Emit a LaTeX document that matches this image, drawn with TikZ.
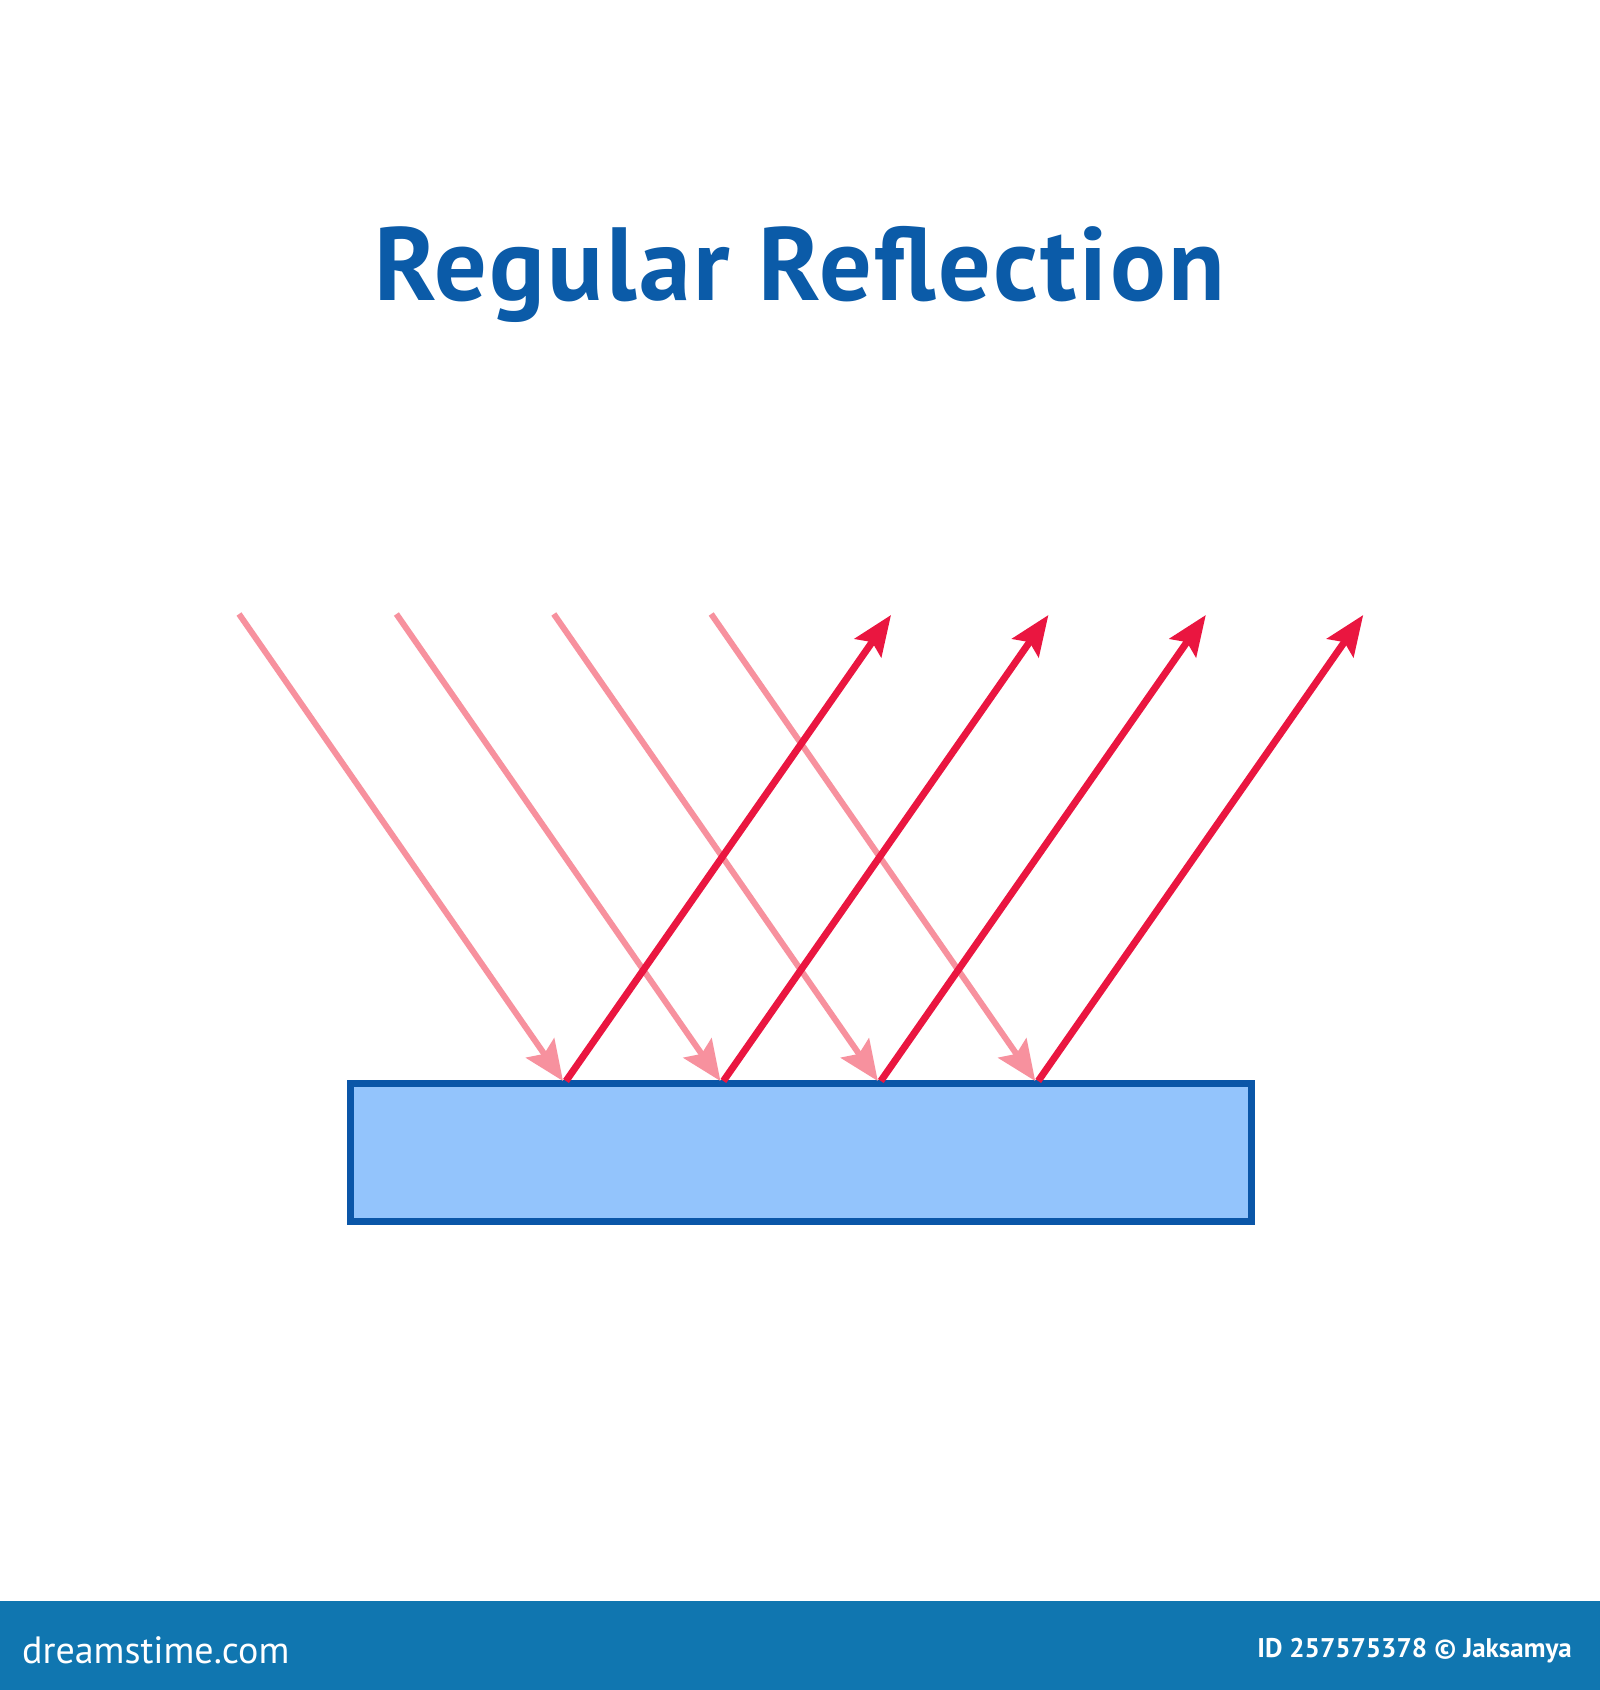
\documentclass[tikz,border=0pt]{standalone}
\usepackage{fontspec}
\setmainfont{PT Sans}
\newfontfamily\titlefont[LetterSpace=2.4]{PT Sans}
\usetikzlibrary{arrows.meta}
\definecolor{titleblue}{HTML}{0B5BA8}
\definecolor{surfblue}{HTML}{0A56A8}
\definecolor{surffill}{HTML}{93C4FC}
\definecolor{incpink}{HTML}{F7919E}
\definecolor{refred}{HTML}{EA1640}
\definecolor{barblue}{HTML}{1076B0}
\begin{document}
\begin{tikzpicture}[x=1pt,y=-1pt,
  incident/.style={draw=incpink, line width=6pt, -{Stealth[length=40pt,width=34pt,inset=7pt,fill=incpink]}},
  reflected/.style={draw=refred, line width=7pt, -{Stealth[length=40pt,width=32pt,inset=7pt,fill=refred]}},
  surfacebox/.style={draw=surfblue, fill=surffill, line width=7pt, inner sep=0pt, rectangle},
  titletext/.style={text=titleblue, font=\titlefont\bfseries\fontsize{104}{110}\selectfont, inner sep=0pt},
  bartext/.style={text=white, inner sep=0pt}]
\useasboundingbox (0,0) rectangle (1600,1690);
\fill[white] (0,0) rectangle (1600,1690);
\node[titletext, anchor=base] (title) at (800,300) {Regular Reflection};
\node[surfacebox, minimum width=901pt, minimum height=138pt] (surface) at (801,1152) {};
\foreach \i in {0,...,3}{
  \coordinate (in-\i) at ({239+157.4*\i},614);
  \coordinate (hit-\i) at ({563+157.4*\i},1081);
  \coordinate (start-\i) at ({566+157.4*\i},1081);
  \coordinate (out-\i) at ({891+157.4*\i},615);
}
\foreach \i in {0,...,3}{
  \draw[incident] (in-\i) -- (hit-\i);
}
\foreach \i in {0,...,3}{
  \draw[reflected] (start-\i) -- (out-\i);
}
\fill[barblue] (0,1601) rectangle (1600,1690);
\node[bartext, anchor=base west, font=\fontsize{38}{40}\selectfont] (logo) at (22,1663) {dreamstime.com};
\node[bartext, anchor=base east, font=\bfseries\fontsize{27}{29}\selectfont] (credit) at (1572,1657) {ID 257575378 © Jaksamya};
\end{tikzpicture}
\end{document}
